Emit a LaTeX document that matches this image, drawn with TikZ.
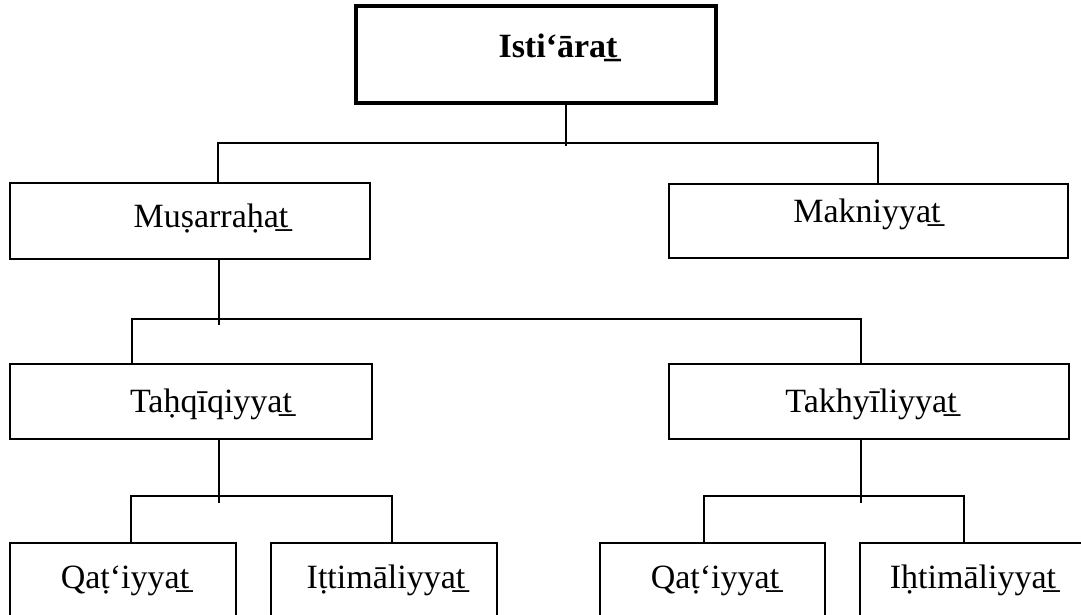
\documentclass[tikz,border=0pt]{standalone}
\usepackage{fontspec}
\setmainfont{Liberation Serif}
\begin{document}
\begin{tikzpicture}[x=1pt,y=-1pt,
  box/.style={draw, line width=1.6pt, rectangle, inner sep=0pt},
  topbox/.style={draw, line width=4pt, rectangle, inner sep=0pt},
  conn/.style={line width=1.6pt},
  lbl/.style={anchor=base, inner sep=0pt, font=\fontsize{34}{40}\selectfont},
  ttl/.style={anchor=base, inner sep=0pt, font=\fontsize{34}{40}\selectfont\bfseries}]
\useasboundingbox (0,0) rectangle (1081,614);
\clip (0,0) rectangle (1081,614);
% boxes
\node[topbox, minimum width=360pt, minimum height=97pt] (top) at (536,54.5) {};
\node[box, minimum width=360pt, minimum height=76pt] (mus) at (190,221) {};
\node[box, minimum width=399pt, minimum height=74pt] (mak) at (868.5,221) {};
\node[box, minimum width=362pt, minimum height=75pt] (tah) at (191,401.5) {};
\node[box, minimum width=400pt, minimum height=75pt] (takh) at (869,401.5) {};
\node[box, minimum width=226pt, minimum height=110pt] (q1) at (123,598) {};
\node[box, minimum width=226pt, minimum height=110pt] (it) at (384,598) {};
\node[box, minimum width=225pt, minimum height=110pt] (q2) at (712.5,598) {};
\node[box, minimum width=240pt, minimum height=110pt] (ih) at (980,598) {};
% texts
\node[ttl] (tt) at (558,57) {Isti‘ārat̲};
\node[lbl] (tmus) at (211,227) {Muṣarraḥat̲};
\node[lbl] (tmak) at (867,222) {Makniyyat̲};
\node[lbl] (ttah) at (211,412) {Taḥqīqiyyat̲};
\node[lbl] (ttakh) at (871,412) {Takhyīliyyat̲};
\node[lbl] (tq1) at (125,588) {Qaṭ‘iyyat̲};
\node[lbl] (tit) at (386,588) {Iṭtimāliyyat̲};
\node[lbl] (tq2) at (715,588) {Qaṭ‘iyyat̲};
\node[lbl] (tih) at (973,588) {Iḥtimāliyyat̲};
% junctions
\coordinate (j1) at (566,143);
\coordinate (j1L) at (218,143);
\coordinate (j1R) at (878,143);
\coordinate (j2) at (219,319);
\coordinate (j2L) at (132,319);
\coordinate (j2R) at (861,319);
\coordinate (j3) at (219,496);
\coordinate (j3L) at (131,496);
\coordinate (j3R) at (392,496);
\coordinate (j4) at (861,496);
\coordinate (j4L) at (704,496);
\coordinate (j4R) at (964,496);
% connectors
\draw[conn, shorten >=-3pt] (top.south -| j1) -- (j1);
\draw[conn] (mus.north -| j1L) -- (j1L) -- (j1R) -- (mak.north -| j1R);
\draw[conn, shorten >=-6pt] (mus.south -| j2) -- (j2);
\draw[conn] (tah.north -| j2L) -- (j2L) -- (j2R) -- (takh.north -| j2R);
\draw[conn, shorten >=-7pt] (tah.south -| j3) -- (j3);
\draw[conn] (q1.north -| j3L) -- (j3L) -- (j3R) -- (it.north -| j3R);
\draw[conn, shorten >=-7pt] (takh.south -| j4) -- (j4);
\draw[conn] (q2.north -| j4L) -- (j4L) -- (j4R) -- (ih.north -| j4R);
\end{tikzpicture}
\end{document}
